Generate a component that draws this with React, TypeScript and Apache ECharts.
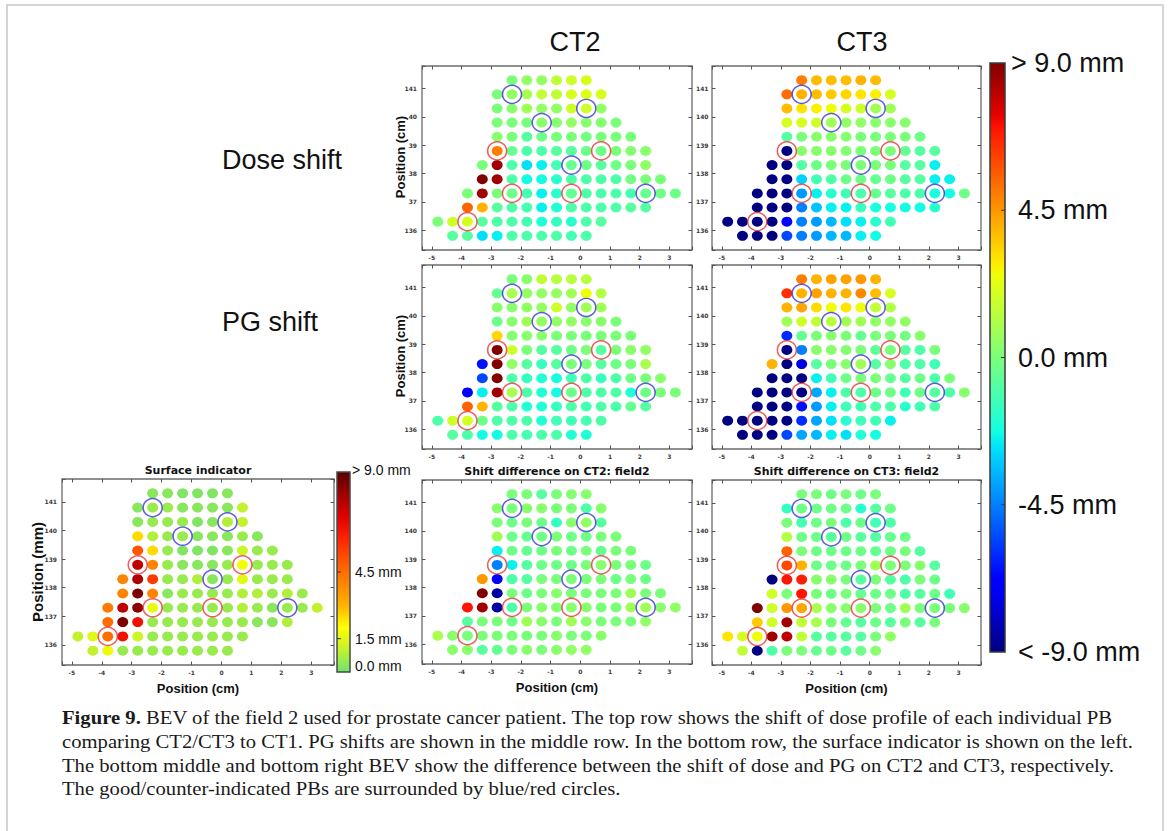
import React, { useEffect, useRef } from 'react';
import * as echarts from 'echarts';

// ---------- grid of pencil beams (BEV) ----------
const xCenters = [-4.8, -4.3, -3.8, -3.3, -2.8, -2.3, -1.8, -1.3, -0.8, -0.3, 0.2, 0.7, 1.2, 1.7, 2.2, 2.7, 3.2];
const yRows = [141.3, 140.8, 140.3, 139.8, 139.3, 138.8, 138.3, 137.8, 137.3, 136.8, 136.3, 135.8];
const rowStart = [5, 4, 4, 4, 4, 4, 3, 3, 2, 2, 0, 1];

// ---------- values per row (mm) ----------
const doseShiftCT2 = [
  [0, 0.5, 0.5, 1.5, 1.8, 2.0],
  [0, 0.5, 1.0, 1.5, 1.5, 2.0, 2.2, 2.0],
  [0, 0.3, 0.8, 0.5, 0.5, 1.8, 1.8, 0.5],
  [0, 0, 0, 0.3, 0.3, 0.5, 0.3, 0.2, 0],
  [0.3, 0, -0.8, -0.3, 0, 0, -0.2, 0, 0, 0],
  [5.0, -0.5, -1.0, -1.0, -0.8, -0.8, -0.3, -0.3, 0, 0.2, 0.3],
  [0, 8.5, -1.0, -2.8, -2.5, -1.2, -0.5, -0.3, -0.8, -0.3, 0, 0.5],
  [9.0, 8.5, -1.0, -2.3, -2.3, -1.8, -1.0, -1.0, -1.0, -1.0, -0.2, 0, 0],
  [0, 8.5, 0, -0.3, -1.2, -2.5, -1.8, -0.5, -1.0, -1.0, -1.0, -1.2, -0.5, -0.3, -0.3],
  [5.5, 4.0, -0.8, -1.0, -1.2, -2.5, -2.0, -1.0, -1.0, -1.0, -1.0, -0.8, -0.8],
  [0, 1.8, 2.0, -0.8, -1.0, -1.0, -1.2, -2.0, -1.5, -1.8, -1.0, -0.8],
  [-0.8, -0.8, -2.8, -2.5, -1.0, -1.0, -1.0, -1.0, -1.2, -1.0],
];
const doseShiftCT3 = [
  [5.0, 3.8, 3.8, 3.8, 4.0, 3.8],
  [5.3, 4.0, 3.8, 3.5, 3.3, 3.0, 2.8, 2.0],
  [3.8, 3.0, 2.8, 2.5, 2.0, 1.8, 0.8, 0.8],
  [2.0, 2.0, 1.8, 0.8, 0.5, 0.5, 0.3, 0.3, 0.3],
  [-0.8, 0, 0.3, 0.3, 0.2, 0, 0, 0, 0, -0.3],
  [-9, 0.3, 0.3, 0.3, 0.2, 0, 0, 0, -0.5, -0.8, -0.8],
  [-9, -9, -0.8, -0.3, 0, 0, 0, 0, 0, -0.8, -0.8, -2.5],
  [-9, -9, -3.0, -1.3, -1.0, -0.3, -0.3, -0.5, -0.3, -0.8, -0.8, -2.5, -2.5],
  [-9, -9, -9, -4.0, -2.5, -1.8, -1.3, -1.0, -0.5, -0.8, -1.0, -1.0, -2.2, -2.3, -0.3],
  [-9, -9, -9, -4.5, -3.3, -2.5, -2.5, -1.5, -2.2, -2.2, -2.3, -2.3, -1.8],
  [-9, -9, -9, -9, -7.0, -4.5, -4.0, -3.5, -2.8, -2.5, -1.8, -1.3],
  [-9, -9, -9, -5.5, -4.5, -4.0, -3.5, -3.5, -2.5, -2.3],
];
const pgShiftCT2 = [
  [0, 0.3, 1.5, 1.3, 1.3, 1.3],
  [-0.5, 1.0, 0.5, 0.5, 0.5, 0.8, 2.5, 1.2],
  [0.3, 0.3, 0.5, 0.5, 1.8, 0.5, 0.8, 0.8],
  [-0.3, 0.3, 0.8, 0.5, 0.5, 0.5, 0.3, 0.3, 0],
  [3.3, 0.2, 0.3, 0.3, 0, 0, 0, 0, 0, 0],
  [9, 1.8, 0, -0.8, -0.8, -0.3, 0, -0.8, 0, 0.3, 0.5],
  [-6.5, 9, 0.5, -0.8, -1.5, -0.8, 0, 0, -0.8, -0.3, 0, 1.0],
  [-5.5, 9, -1.0, -1.5, -2.0, -2.2, -1.3, -1.0, -1.5, -1.0, -0.3, 0, 0.3],
  [-7.0, -2.5, 8.5, 1.0, -1.0, -2.0, -2.3, -0.3, -1.0, -1.0, -1.0, -2.0, -0.3, 0, 0],
  [5.5, 4.0, -0.8, -1.0, -2.0, -2.0, -1.5, -1.0, -1.2, -1.0, -1.0, -0.5, -0.8],
  [-1.0, 1.8, 2.0, -0.3, -1.0, -1.0, -1.0, -2.0, -1.3, -1.3, -1.2, -1.0],
  [-0.8, -1.0, -2.3, -2.3, -1.0, -1.2, -1.0, -1.0, -2.0, -2.0],
];
const pgShiftCT3 = [
  [5.0, 4.0, 4.3, 4.3, 4.5, 4.0],
  [6.5, 4.0, 4.3, 4.0, 4.0, 4.8, 3.8, 2.0],
  [4.0, 4.2, 3.2, 2.5, 3.0, 2.5, 1.5, 1.2],
  [0.8, 1.8, 1.5, 1.3, 0.8, 0.8, 0.5, 0.5, 0.5],
  [-6.0, -0.5, 0, 0.3, 0, -0.5, 0, 0, -0.2, 0.3],
  [-9, -4.5, 0.3, 0.3, 0.2, 0, -0.6, 0, -0.8, -1.0, 0],
  [4.0, -9, -7.5, -0.8, 0, 0.3, 0.8, -0.8, 0.3, -1.0, -1.0, -1.3],
  [-9, -9, -9, -2.5, -1.3, -0.3, 0, 0, -0.5, -0.8, -0.3, -1.0, 0],
  [-9, -9, -9, -9, -3.8, -2.5, -1.0, -1.0, -0.3, -0.3, -1.3, -0.3, -0.8, -1.0, 0.3],
  [-9, -9, -9, -6.5, -4.0, -2.5, -1.3, -1.3, -1.0, -1.0, -1.8, -1.3, -1.0],
  [-9, -9, -9, -9, -9, -6.0, -3.8, -2.8, -1.8, -1.3, -1.3, -2.5],
  [-9, -9, -9, -5.5, -3.8, -3.5, -2.5, -2.8, -2.0, -2.3],
];
const surfaceIndicator = [
  [0.3, 0.3, 0.2, 0.2, 0.2, 0.3],
  [0.3, 0.5, 0.5, 0.3, 0.3, 0.3, 0.3, 1.0],
  [0.3, 0.5, 0.5, 0.5, 0.2, 0.3, 0.8, 1.0],
  [2.5, 0.8, 0.5, 0.5, 0.3, 0.3, 0.3, 0.5, 0.3],
  [5.0, 2.5, 0.5, 0.2, 0.2, 0.2, 0.3, 1.2, 0.5, 0.5],
  [7.5, 4.0, 0.5, 0.3, 0.3, 0.3, 0.5, 1.8, 0.5, 0.5, 0.5],
  [4.0, 7.8, 5.5, 0.5, 0.5, 0.8, 0.3, 0.5, 1.5, 0.5, 0.5, 0.5],
  [4.0, 8.5, 4.0, 0.3, 0.5, 0.5, 0.5, 0.5, 0.8, 0.8, 0.5, 0.8, 0.5],
  [4.2, 7.5, 8.3, 1.6, 0.5, 0.5, 0.5, 0.5, 0.5, 0.8, 0.5, 0.3, 0.5, 0.5, 1.0],
  [4.5, 8.5, 6.5, 0.5, 0.5, 0.5, 0.5, 0.5, 0.5, 0.5, 0.3, 0.3, 0.8],
  [1.0, 1.5, 4.5, 6.5, 1.2, 0.5, 0.5, 0.5, 0.5, 0.5, 0.5, 0.5],
  [1.0, 1.7, 0.5, 0.5, 0.5, 0.5, 0.5, 0.5, 0.5, 0.5],
];
const shiftDiffCT2 = [
  [0, 0, -0.8, 0, 0.2, 0.3],
  [0.3, 0, 0.3, 0.3, 0, 0, -1.0, 0.3],
  [0, -0.3, 0, -0.3, -1.5, 0.3, 0.5, -0.8],
  [0.8, -0.3, -0.5, -0.3, 0, -0.3, -0.3, 0, 0],
  [-2.5, -0.3, -0.5, -0.3, 0, -0.3, 0, -0.5, 0, 0],
  [-4.5, -2.5, -0.8, -0.3, -0.3, -0.3, 0, 0.3, 0, 0, -0.3],
  [4.5, -7.0, -1.0, -0.8, 0, 0, 0, 0, 0, -0.3, 0, -0.3],
  [9, -8.5, 0, -0.3, 0, 0.3, 0, 0, 0, 0, 0.8, 0, 0],
  [7.0, 8.5, -8.5, -1.0, 0, 0.3, 0.2, 0.3, 0.3, 0, 0, 0.8, 0.8, 0.3, 0.5],
  [-0.8, 0, 0, -0.3, 0.8, 0.3, 0, 0.8, 0.3, 0, 0, 0, 0.5],
  [1.0, 0.3, 0, 0, 0, 0, 0, 0, 0.3, 0, 0, 0.3],
  [0.3, 0.3, -0.8, -0.5, 0, 0.3, 0, 0.3, 0.5, 0.5],
];
const shiftDiffCT3 = [
  [0, 0, -0.3, 0, -0.3, 0],
  [-1.5, -0.3, -0.3, -0.3, -0.3, -1.8, -0.8, -0.3],
  [0, -1.2, -0.3, 0, -1.0, -0.3, -1.3, -1.0],
  [1.2, -0.3, -0.3, -0.8, -0.3, -0.8, -0.8, -0.5, -0.3],
  [5.5, 0, -0.3, -0.3, -0.3, -0.3, -0.5, -0.3, 0, -0.8],
  [6.0, 4.0, -0.3, -0.3, -0.3, 0, 0.8, 0, 0, 0.3, -0.8],
  [-9, 7.0, 6.8, 0.3, 0.3, 0, -0.8, 0, -0.8, -1.0, 0, -0.3],
  [1.8, 0, 7.0, 0, -0.3, 0, -0.5, -0.3, -0.3, -1.0, -0.8, -0.3, -1.3],
  [9, 1.8, 4.5, 4.2, 1.0, 0.3, 0.3, 0.3, 0, -0.3, 0.8, 0, 0, 0, 0.3],
  [3.5, 1.8, 8.5, 1.5, 1.0, 0, -0.5, -0.8, -0.3, -0.8, 0, -0.8, 0],
  [3.0, 2.0, 2.5, 8.5, 8.0, 1.5, -0.8, -0.8, -0.8, -0.8, 0, 0.5],
  [1.5, -9, -1.0, 0, 0, -0.5, -0.3, -0.8, -0.3, 0.3],
];

// good / counter-indicated pencil beams
const goodPB = [[-2.3, 140.8], [0.2, 140.3], [-1.3, 139.8], [-0.3, 138.3], [2.2, 137.3]];
const counterPB = [[-2.8, 138.8], [0.7, 138.8], [-2.3, 137.3], [-0.3, 137.3], [-3.8, 136.3]];

// colour bars
const shiftBarTicks = [9, 4.5, 0, -4.5, -9];
const shiftBarLabels = ['> 9.0 mm', '4.5 mm', '0.0 mm', '-4.5 mm', '< -9.0 mm'];
const surfBarTicks = [9, 4.5, 1.5, 0];
const surfBarLabels = ['> 9.0 mm', '4.5 mm', '1.5 mm', '0.0 mm'];
const surfaceColors = ['#6fe26f', '#c2f22e', '#ffff00', '#ffb400', '#ff8400', '#ff5600', '#ff2200', '#e00000', '#a00000', '#580000'];

const titles = ['Surface indicator', 'Shift difference on CT2: field2', 'Shift difference on CT3: field2'];
const captionLines = [
  '{b|Figure 9.} BEV of the field 2 used for prostate cancer patient. The top row shows the shift of dose profile of each individual PB',
  'comparing CT2/CT3 to CT1. PG shifts are shown in the middle row. In the bottom row, the surface indicator is shown on the left.',
  'The bottom middle and bottom right BEV show the difference between the shift of dose and PG on CT2 and CT3, respectively.',
  'The good/counter-indicated PBs are surrounded by blue/red circles.',
];

const X_RANGE = [-5.33, 3.76];
const Y_RANGE = [135.3, 141.8];

// jet colormap (matplotlib segment data)
const JR = [[0, 0], [0.35, 0], [0.66, 1], [0.89, 1], [1, 0.5]];
const JG = [[0, 0], [0.125, 0], [0.375, 1], [0.64, 1], [0.91, 0], [1, 0]];
const JB = [[0, 0.5], [0.11, 1], [0.34, 1], [0.65, 0], [1, 0]];
function seg(p: number[][], t: number) {
  for (let i = 1; i < p.length; i++) {
    if (t <= p[i][0]) {
      const [x0, y0] = p[i - 1];
      const [x1, y1] = p[i];
      return y0 + ((y1 - y0) * (t - x0)) / (x1 - x0);
    }
  }
  return p[p.length - 1][1];
}
function jet(t: number) {
  const c = [JR, JG, JB].map((p) => Math.round(255 * seg(p, t)));
  return `rgb(${c[0]},${c[1]},${c[2]})`;
}
const jetColors = Array.from({ length: 65 }, (_, i) => jet(i / 64));

function toPoints(rows: number[][]) {
  const pts: number[][] = [];
  rows.forEach((row, r) => row.forEach((v, k) => pts.push([xCenters[rowStart[r] + k], yRows[r], v])));
  return pts;
}

const panels = [
  { data: doseShiftCT2, map: 0, left: 422, top: 66, width: 270, height: 184, leftLabels: true, rightLabels: true, coverName: 'Position (cm)' },
  { data: doseShiftCT3, map: 0, left: 712, top: 66, width: 269, height: 184 },
  { data: pgShiftCT2, map: 0, left: 422, top: 265, width: 270, height: 184, leftLabels: true, rightLabels: true, coverName: 'Position (cm)' },
  { data: pgShiftCT3, map: 0, left: 712, top: 265, width: 269, height: 184 },
  { data: surfaceIndicator, map: 1, left: 62, top: 479, width: 272, height: 186, leftLabels: true, yName: 'Position (mm)', xName: 'Position (cm)', title: titles[0] },
  { data: shiftDiffCT2, map: 0, left: 422, top: 480, width: 270, height: 184, leftLabels: true, rightLabels: true, xName: 'Position (cm)', title: titles[1] },
  { data: shiftDiffCT3, map: 0, left: 712, top: 480, width: 269, height: 185, xName: 'Position (cm)', title: titles[2] },
];

const isInt = (v: number) => Math.abs(v - Math.round(v)) < 1e-6;
const tickFmt = (v: number) => (isInt(v) ? String(Math.round(v)) : '');
const tickFont = { fontSize: 6, fontWeight: 'bold', color: '#3a3a3a', fontFamily: 'DejaVu Sans' };
const tickStyle = { show: true, inside: true, length: 3.5, lineStyle: { color: '#555', width: 1 } };
const noLine = { show: false, onZero: false };

function txt(x: number, y: number, text: string, font: string, align = 'left', vAlign = 'middle', fill = '#111') {
  return {
    type: 'text', x, y, z: 50,
    style: { text, font, fill, textAlign: align, textVerticalAlign: vAlign, align, verticalAlign: vAlign },
  };
}

function buildOption() {
  const grid: any[] = [];
  const xAxis: any[] = [];
  const yAxis: any[] = [];
  const series: any[] = [];
  const shiftIdx: number[] = [];
  const surfIdx: number[] = [];
  const g: any[] = [];

  panels.forEach((p: any, i) => {
    grid.push({ left: p.left, top: p.top, width: p.width, height: p.height, show: true, borderColor: '#6b6b6b', borderWidth: 1.3, containLabel: false });
    const bx = { type: 'value', gridIndex: i, min: X_RANGE[0], max: X_RANGE[1], minInterval: 1, maxInterval: 1, splitLine: { show: false }, axisLine: noLine, axisTick: tickStyle, nameMoveOverlap: false };
    const by = { type: 'value', gridIndex: i, min: Y_RANGE[0], max: Y_RANGE[1], minInterval: 1, maxInterval: 1, splitLine: { show: false }, axisLine: noLine, axisTick: tickStyle, nameMoveOverlap: false };
    xAxis.push({
      ...bx, position: 'bottom',
      axisLabel: { ...tickFont, margin: 4, formatter: tickFmt },
      name: p.xName || '', nameLocation: 'middle', nameGap: 17,
      nameTextStyle: { fontSize: 13, fontWeight: 'bold', fontFamily: 'Liberation Sans', color: '#111' },
    });
    xAxis.push({ ...bx, position: 'top', axisLabel: { show: false } });
    const isSurf = p.map === 1;
    yAxis.push({
      ...by, position: 'left',
      axisLabel: p.leftLabels ? { ...tickFont, margin: 5, formatter: tickFmt } : { show: false },
      name: p.yName || '', nameLocation: 'middle', nameRotate: 90, nameGap: 17,
      nameTextStyle: { fontSize: 15, fontWeight: 'bold', fontFamily: 'Liberation Sans', color: '#111' },
    });
    yAxis.push({
      ...by, position: 'right',
      axisLabel: p.rightLabels ? { ...tickFont, margin: 4, formatter: tickFmt } : { show: false },
    });
    if (p.coverName) {
      // y-axis title drawn on a white box that hides the hundreds digit of the tick labels, as in the figure
      g.push({
        type: 'text', x: 400, y: p.top + p.height / 2 - 1, rotation: Math.PI / 2, z: 60,
        style: {
          text: p.coverName, font: 'bold 13px "Liberation Sans"', fill: '#111',
          textAlign: 'center', textVerticalAlign: 'middle', align: 'center', verticalAlign: 'middle',
          backgroundColor: '#fff', padding: [2, 7, 2, 7],
        },
      });
    }
    const base = series.length;
    (isSurf ? surfIdx : shiftIdx).push(base);
    series.push({
      type: 'scatter', xAxisIndex: 2 * i, yAxisIndex: 2 * i, data: toPoints(p.data),
      symbol: 'circle', symbolSize: [11, 10], itemStyle: { opacity: 1 }, silent: true, z: 2,
    });
    series.push({
      type: 'scatter', xAxisIndex: 2 * i, yAxisIndex: 2 * i, data: goodPB, symbol: 'circle', symbolSize: [19, 18], silent: true, z: 3,
      itemStyle: { color: 'rgba(0,0,0,0)', borderColor: '#3636d8', borderWidth: 1.5 },
    });
    series.push({
      type: 'scatter', xAxisIndex: 2 * i, yAxisIndex: 2 * i, data: counterPB, symbol: 'circle', symbolSize: [19, 18], silent: true, z: 3,
      itemStyle: { color: 'rgba(0,0,0,0)', borderColor: '#e83434', borderWidth: 1.5 },
    });
  });

  // ----- graphics: colour bars, labels, caption -----
  g.push({ type: 'rect', shape: { x: 7, y: 5, width: 1156, height: 900 }, style: { fill: 'none', stroke: '#c6c6c6', lineWidth: 1.5 }, z: 1 });

  const headFont = '27px "Liberation Sans"';
  g.push(txt(575, 42, 'CT2', headFont, 'center'));
  g.push(txt(862, 42, 'CT3', headFont, 'center'));
  g.push(txt(222, 160, 'Dose shift', headFont));
  g.push(txt(222, 322, 'PG shift', headFont));

  // big jet bar
  const B = { x: 990, y: 63, w: 15, h: 589 };
  const jetStopsArr = jetColors.map((c, i) => ({ offset: 1 - i / (jetColors.length - 1), color: c })).reverse();
  g.push({
    type: 'rect', shape: { x: B.x, y: B.y, width: B.w, height: B.h }, z: 40,
    style: { fill: new echarts.graphic.LinearGradient(0, 0, 0, 1, jetStopsArr), stroke: '#3a3a3a', lineWidth: 1.5 },
  });
  shiftBarTicks.forEach((v, i) => {
    const y = B.y + ((9 - v) / 18) * B.h;
    if (i > 0 && i < shiftBarTicks.length - 1) {
      g.push({ type: 'line', z: 41, shape: { x1: B.x + B.w - 4, y1: y, x2: B.x + B.w, y2: y }, style: { stroke: '#333', lineWidth: 1 } });
    }
    g.push(txt(i === 0 ? 1011 : 1018, y, shiftBarLabels[i], headFont));
  });

  // surface bar
  const S = { x: 337, y: 472, w: 13, h: 200 };
  const surfStops = surfaceColors.map((c, i) => ({ offset: 1 - i / (surfaceColors.length - 1), color: c })).reverse();
  g.push({
    type: 'rect', shape: { x: S.x, y: S.y, width: S.w, height: S.h }, z: 40,
    style: { fill: new echarts.graphic.LinearGradient(0, 0, 0, 1, surfStops), stroke: '#4a4a4a', lineWidth: 1.5 },
  });
  surfBarTicks.forEach((v, i) => {
    const y = S.y + ((9 - v) / 9) * S.h;
    if (i === 1 || i === 2) {
      g.push({ type: 'line', z: 41, shape: { x1: S.x, y1: y, x2: S.x + 4, y2: y }, style: { stroke: '#333', lineWidth: 1 } });
    }
    const ly = i === 0 ? y - 2 : i === surfBarTicks.length - 1 ? y - 6 : y;
    g.push(txt(i === 0 ? 352 : 355, ly, surfBarLabels[i], '14px "Liberation Sans"'));
  });

  // bottom-row titles
  const titleFont = 'bold 11px "DejaVu Sans"';
  panels.forEach((p: any) => {
    if (p.title) g.push(txt(p.left + p.width / 2, p.top - 9, p.title, titleFont, 'center'));
  });

  // caption
  captionLines.forEach((line, i) => {
    g.push({
      type: 'text', x: 62, y: 718 + i * 23.7, z: 50, scaleX: 1.117,
      style: {
        text: line, fontFamily: 'Liberation Serif', fontSize: 18.5, fill: '#1a1a1a',
        textVerticalAlign: 'middle', verticalAlign: 'middle',
        rich: { b: { fontFamily: 'Liberation Serif', fontSize: 18.5, fontWeight: 'bold', fill: '#1a1a1a' } },
      },
    });
  });

  return {
    animation: false,
    backgroundColor: '#fff',
    grid, xAxis, yAxis, series,
    visualMap: [
      { type: 'continuous', show: false, min: -9, max: 9, dimension: 2, seriesIndex: shiftIdx, inRange: { color: jetColors } },
      { type: 'continuous', show: false, min: 0, max: 9, dimension: 2, seriesIndex: surfIdx, inRange: { color: surfaceColors } },
    ],
    graphic: { elements: g },
  };
}

export default function App() {
  const ref = useRef<HTMLDivElement>(null);
  useEffect(() => {
    if (!ref.current) return;
    const chart = echarts.init(ref.current, undefined, { renderer: 'svg' });
    chart.setOption(buildOption() as any);
    return () => chart.dispose();
  }, []);
  return <div ref={ref} style={{ position: 'absolute', left: 0, top: 0, width: 1170, height: 831, background: '#fff' }} />;
}
